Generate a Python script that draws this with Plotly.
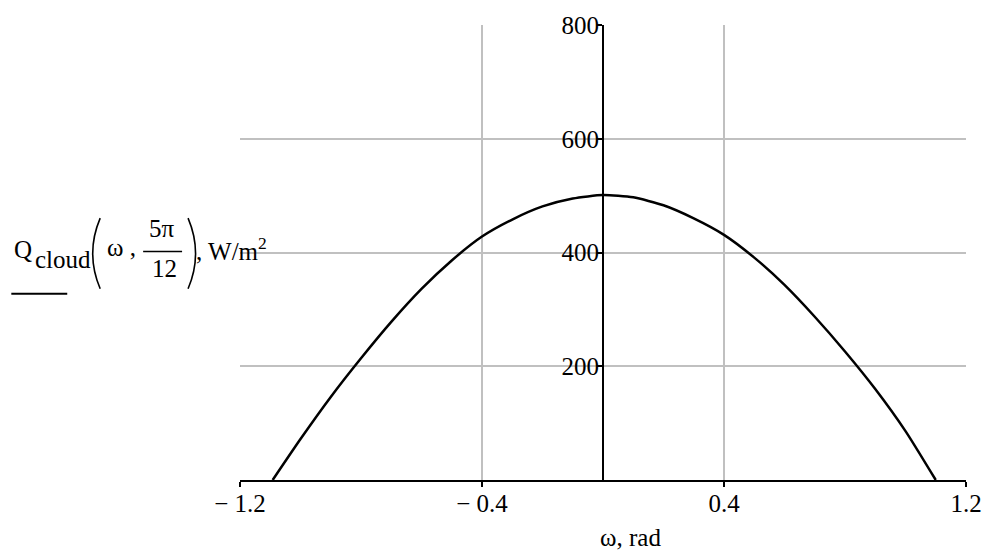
import plotly.graph_objects as go

# Hour angle (rad) and cloudy-sky irradiance Q_cloud(ω, 5π/12) in W/m²
omega = [-1.092, -1.0, -0.9, -0.8, -0.7, -0.6, -0.5, -0.4, -0.3, -0.2, -0.1,
         0.0, 0.1, 0.2, 0.3, 0.4, 0.5, 0.6, 0.7, 0.8, 0.9, 1.0, 1.1]
q_cloud = [0, 72, 146, 214, 278, 336, 386, 428, 458, 481, 495,
           501, 497, 483, 460, 431, 391, 343, 287, 226, 160, 86, 0]

x_ticks = [-1.2, -0.4, 0.4, 1.2]
x_tick_text = ["\u2212 1.2", "\u2212 0.4", "0.4", "1.2"]
y_ticks = [200, 400, 600, 800]
y_tick_text = ["200", "400", "600", "800"]

X_RANGE = [-1.2, 1.2]
Y_RANGE = [0, 800]

W, H = 994, 555
M_L, M_R, M_T, M_B = 240, 27, 16, 75
PW, PH = W - M_L - M_R, H - M_T - M_B

FONT = "Liberation Serif, Times New Roman, serif"
FS = 25
GRID = "#c0c0c0"


def px(x):
    return (x - M_L) / PW


def py(y):
    return (H - M_B - y) / PH


# vertical axis sits at ω = 0
y_axis_pos = (0 - X_RANGE[0]) / (X_RANGE[1] - X_RANGE[0])

fig = go.Figure()
fig.add_trace(go.Scatter(
    x=omega, y=q_cloud, mode="lines",
    line=dict(color="black", width=2.5, shape="spline", smoothing=0.6),
    hoverinfo="skip", showlegend=False,
))

axis_common = dict(color="black", tickfont=dict(family=FONT, size=FS, color="black"))

fig.update_layout(
    width=W, height=H,
    margin=dict(l=M_L, r=M_R, t=M_T, b=M_B, pad=0),
    paper_bgcolor="white", plot_bgcolor="white",
    showlegend=False,
    xaxis=dict(
        range=X_RANGE, tickvals=x_ticks, ticktext=x_tick_text,
        showgrid=True, gridcolor=GRID, gridwidth=1.5,
        showline=True, linecolor="black", linewidth=2,
        ticks="outside", ticklen=5, tickwidth=2, tickcolor="black",
        ticklabelstandoff=-5,
        zeroline=False, **axis_common,
    ),
    xaxis2=dict(
        range=X_RANGE, overlaying="x", anchor="y", tickvals=x_ticks,
        showticklabels=False, showgrid=False, zeroline=False,
        ticks="inside", ticklen=7, tickwidth=2, tickcolor="black",
    ),
    yaxis=dict(
        range=Y_RANGE, tickvals=y_ticks, ticktext=y_tick_text,
        anchor="free", position=y_axis_pos,
        showgrid=True, gridcolor=GRID, gridwidth=1.5,
        showline=True, linecolor="black", linewidth=2,
        ticks="outside", ticklen=5, tickwidth=2, tickcolor="black",
        ticklabelstandoff=-7,
        zeroline=False, **axis_common,
    ),
    yaxis2=dict(
        range=Y_RANGE, overlaying="y", anchor="free", position=y_axis_pos,
        tickvals=y_ticks, showticklabels=False, showgrid=False, zeroline=False,
        ticks="inside", ticklen=6, tickwidth=2, tickcolor="black",
    ),
)


def label(text, x, yc, size=FS, xanchor="left"):
    fig.add_annotation(
        text=text, xref="paper", yref="paper", x=0, y=0,
        xshift=x - M_L, yshift=(H - M_B) - yc,
        xanchor=xanchor, yanchor="middle", showarrow=False,
        font=dict(family=FONT, size=size, color="black"),
    )


# x-axis title
label("\u03c9, rad", 630, 537, xanchor="center")

# y-axis title: Q_cloud(ω, 5π/12), W/m²
label("Q", 12, 249)
label("cloud", 33, 259)
label("\u03c9 ,", 105, 247)
label("5\u03c0", 162, 228, xanchor="center")
label("12", 164, 268, xanchor="center")
label(", W/m<sup>2</sup>", 194, 249)

line_style = dict(color="black", width=1.6)
# parentheses around the arguments
fig.add_shape(type="path", xref="paper", yref="paper",
              path=f"M {px(100)},{py(213)} Q {px(85)},{py(249)} {px(100)},{py(285)}",
              line=line_style)
fig.add_shape(type="path", xref="paper", yref="paper",
              path=f"M {px(188)},{py(213)} Q {px(203)},{py(249)} {px(188)},{py(285)}",
              line=line_style)
# fraction bar
fig.add_shape(type="line", xref="paper", yref="paper",
              x0=px(143), x1=px(182), y0=py(247), y1=py(247), line=line_style)
# trace style sample under the label
fig.add_shape(type="line", xref="paper", yref="paper",
              x0=px(11), x1=px(67), y0=py(290), y1=py(290),
              line=dict(color="black", width=2))

fig.write_html("out.html")
